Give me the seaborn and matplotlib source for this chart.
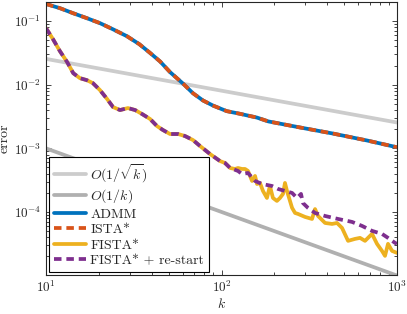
import matplotlib
matplotlib.use("Agg")
import matplotlib.pyplot as plt
import seaborn as sns
from matplotlib.ticker import LogLocator, NullFormatter

# ---------------- data ----------------
k_ref = [10, 1000]
ref_sqrt = [0.0255, 0.00255]   # O(1/sqrt(k)) guide line endpoints
ref_lin = [1.0e-3, 1.0e-5]     # O(1/k) guide line endpoints

k_admm = [10, 12.0, 14.3, 17.0, 20.3, 24.2, 28.9, 34.0, 39.2, 44.7, 50.9,
          55.5, 60.4, 68.8, 78.5, 89.5, 107, 127, 159, 185, 280, 431, 674,
          1000]
admm = [0.186, 0.160, 0.133, 0.112, 0.093, 0.074, 0.058, 0.0435, 0.0316,
        0.0232, 0.0158, 0.0128, 0.0104, 0.00735, 0.00565, 0.00470, 0.00385,
        0.00350, 0.00305, 0.00265, 0.00213, 0.00171, 0.00133, 0.00104]
ista = list(admm)

k_common = [10, 10.96, 12.0, 13.2, 14.3, 15.6, 17.1, 18.5, 20.3, 22.3, 24.1,
            26.4, 29.3, 32.2, 35.3, 39.2, 42.9, 46.4, 50.9, 56.6, 62.0, 68.8,
            75.4, 86.0, 98.0, 104.7, 112.0]
fista_common = [0.0777, 0.0521, 0.0338, 0.0227, 0.0152, 0.0127, 0.0118,
                0.0106, 0.00824, 0.00596, 0.00446, 0.00400, 0.00430, 0.00400,
                0.00346, 0.00289, 0.00224, 0.00194, 0.00168, 0.00168, 0.00156,
                0.00135, 0.00109, 0.000815, 0.000632, 0.000589, 0.000491]

k_fista_tail = [119.4, 124.2, 130.9, 136.2, 141.6, 149.3, 155.3, 159.4, 165.6,
                172.3, 181.5, 188.8, 196.4, 206.9, 215.4, 224.1, 230.0, 236.1,
                245.6, 252.4, 262.5, 273.0, 299.2, 328.0, 341.2, 354.9, 389.2,
                426.6, 455.3, 486.1, 526.1, 576.6, 615.6, 657.3, 720.5, 769.2,
                821.2, 854.4, 888.9, 937.0, 1000]
fista_tail = [4.74e-4, 4.91e-4, 4.74e-4, 4.74e-4, 4.41e-4, 3.07e-4, 3.68e-4,
              2.75e-4, 2.86e-4, 2.14e-4, 1.66e-4, 2.56e-4, 1.66e-4, 1.49e-4,
              1.66e-4, 1.92e-4, 2.86e-4, 2.14e-4, 1.49e-4, 1.16e-4, 9.64e-5,
              9.30e-5, 8.35e-5, 7.76e-5, 1.11e-4, 8.64e-5, 6.71e-5, 6.48e-5,
              6.71e-5, 5.61e-5, 3.51e-5, 3.77e-5, 3.91e-5, 3.51e-5, 4.52e-5,
              3.15e-5, 2.44e-5, 2.04e-5, 3.15e-5, 2.44e-5, 2.27e-5]

k_restart_tail = [124.2, 130.9, 141.6, 155.3, 170.3, 194.1, 209.9, 230.0,
                  252.4, 269.3, 283.8, 291.2, 310.9, 341.2, 389.2, 461.5,
                  554.3, 632.0, 720.5, 821.2, 888.9, 975.0, 1000]
restart_tail = [4.41e-4, 3.95e-4, 4.10e-4, 3.07e-4, 2.75e-4, 2.56e-4, 2.30e-4,
                2.14e-4, 1.99e-4, 1.66e-4, 1.92e-4, 1.38e-4, 1.16e-4, 9.64e-5,
                8.64e-5, 7.76e-5, 6.97e-5, 6.03e-5, 5.04e-5, 4.52e-5, 3.91e-5,
                3.26e-5, 3.15e-5]

k_fista = k_common + k_fista_tail
fista = fista_common + fista_tail
k_restart = k_common + k_restart_tail
restart = fista_common + restart_tail

labels = [r"$O(1/\sqrt{k})$", r"$O(1/k)$", "ADMM", "ISTA*", "FISTA*",
          "FISTA* + re-start"]

# ---------------- style ----------------
sns.set_style("ticks")
plt.rcParams["font.family"] = ["cmr10", "DejaVu Serif"]
plt.rcParams["mathtext.fontset"] = "cm"
plt.rcParams["axes.formatter.use_mathtext"] = True
plt.rcParams["axes.unicode_minus"] = True

fig = plt.figure(figsize=(4.07, 3.14), dpi=100)
ax = fig.add_axes([46 / 407, 1 - 275 / 314, 351 / 407, 273 / 314])

lw = 2.7
common = dict(ax=ax, sort=False, estimator=None, lw=lw)
sns.lineplot(x=k_ref, y=ref_sqrt, color="#cccccc", label=labels[0], **common)
sns.lineplot(x=k_ref, y=ref_lin, color="#b0b0b0", label=labels[1], **common)
sns.lineplot(x=k_admm, y=admm, color="#0072BD", label=labels[2], **common)
sns.lineplot(x=k_admm, y=ista, color="#D95319", label=labels[3],
             linestyle=(0, (2.0, 1.3)), **common)
sns.lineplot(x=k_fista, y=fista, color="#EDB120", label=labels[4], **common)
sns.lineplot(x=k_restart, y=restart, color="#7E2F8E", label=labels[5],
             linestyle=(0, (2.0, 1.3)), **common)

ax.set_xscale("log")
ax.set_yscale("log")
ax.set_xlim(10, 1000)
ax.set_ylim(1.02e-5, 0.2)

ax.xaxis.set_major_locator(LogLocator(base=10, numticks=10))
ax.xaxis.set_minor_locator(LogLocator(base=10, subs=range(2, 10), numticks=20))
ax.xaxis.set_minor_formatter(NullFormatter())
ax.yaxis.set_major_locator(LogLocator(base=10, numticks=10))
ax.yaxis.set_minor_locator(LogLocator(base=10, subs=range(2, 10), numticks=20))
ax.yaxis.set_minor_formatter(NullFormatter())

ax.tick_params(which="both", direction="in", top=True, right=True,
               labelsize=9.5, width=0.6, color="#262626")
ax.tick_params(which="major", length=3.5)
ax.tick_params(which="minor", length=2)
for s in ax.spines.values():
    s.set_linewidth(0.8)
    s.set_color("#262626")

ax.set_xlabel(r"$k$", fontsize=10, labelpad=1)
ax.set_ylabel("error", fontsize=10, labelpad=2)

leg = ax.legend(loc="lower left", bbox_to_anchor=(0.008, 0.011),
                borderaxespad=0, fontsize=10, frameon=True, fancybox=False,
                framealpha=1, edgecolor="black", handlelength=2.3,
                handletextpad=0.35, labelspacing=0.2, borderpad=0.35)
leg.get_frame().set_linewidth(0.8)

fig.savefig("out.png", dpi=100)
